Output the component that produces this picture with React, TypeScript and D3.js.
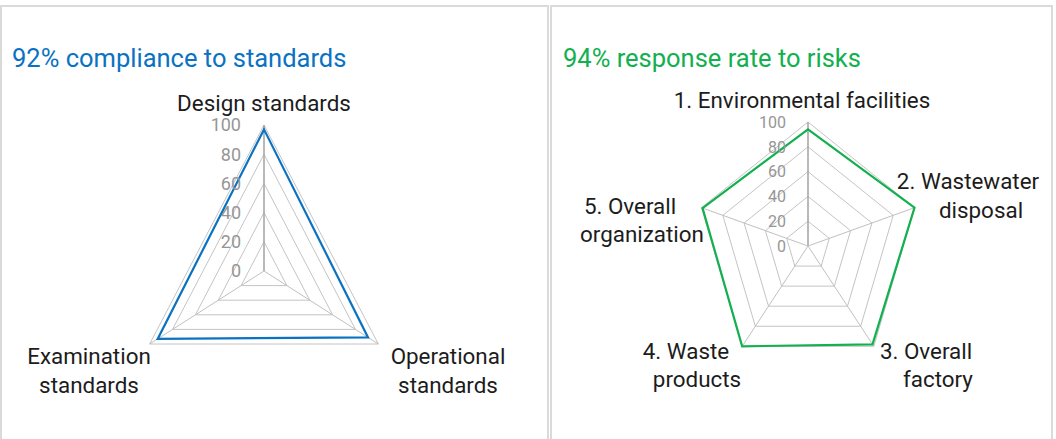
import React, { useEffect, useRef } from 'react'
import * as d3 from 'd3'

// left radar: compliance to standards
const stdLabels = [['Design standards'], ['Operational', 'standards'], ['Examination', 'standards']]
const stdValues = [97, 91, 93]

// right radar: response rate to risks
const riskLabels = [
  ['1. Environmental facilities'],
  ['2. Wastewater', 'disposal'],
  ['3. Overall', 'factory'],
  ['4. Waste', 'products'],
  ['5. Overall', 'organization'],
]
const riskValues = [94, 100, 98, 100, 99]

const ticks = [0, 20, 40, 60, 80, 100]
const titles = ['92% compliance to standards', '94% response rate to risks']

const FONT = 'Roboto, "Noto Sans", sans-serif'

export default function App() {
  const svgRef = useRef<SVGSVGElement>(null)

  useEffect(() => {
    const width = 1056, height = 439
    const svg = d3.select(svgRef.current).attr('width', width).attr('height', height)
    svg.selectAll('*').remove()

    // card frames
    svg.append('rect').attr('x', 1).attr('y', 6).attr('width', 547).attr('height', 450)
      .attr('fill', '#fff').attr('stroke', '#dadada').attr('stroke-width', 2)
    svg.append('rect').attr('x', 551).attr('y', 6).attr('width', 501).attr('height', 450)
      .attr('fill', '#fff').attr('stroke', '#dadada').attr('stroke-width', 2)

    const charts = [
      {
        labels: stdLabels, values: stdValues, title: titles[0], color: '#0a72c2',
        x0: 12, cx: 264, cy: 271, rx: 132, ry: 146, tickSize: 18, tickGap: 23,
        // label line centres / baselines relative to the chart centre
        place: [[[0, -160]], [[184, 93], [184, 122]], [[-175, 93], [-175, 122]]],
      },
      {
        labels: riskLabels, values: riskValues, title: titles[1], color: '#12b04f',
        x0: 563, cx: 808, cy: 246, rx: 112, ry: 124, tickSize: 16, tickGap: 22,
        place: [
          [[-6, -138]],
          [[160, -57], [173, -28]],
          [[118, 113], [130, 141]],
          [[-122, 113], [-111, 141]],
          [[-178, -32], [-166, -4]],
        ],
      },
    ]

    charts.forEach(c => {
      const n = c.values.length
      const angle = d3.scaleLinear().domain([0, n]).range([0, 2 * Math.PI])
      const r = d3.scaleLinear().domain([0, 100]).range([0, 1])
      const pt = (v: number, i: number): [number, number] => [
        c.cx + r(v) * c.rx * Math.sin(angle(i)),
        c.cy - r(v) * c.ry * Math.cos(angle(i)),
      ]
      const poly = d3.line<[number, number]>().curve(d3.curveLinearClosed)
      const g = svg.append('g')

      // grid rings
      g.selectAll('path.ring').data(ticks.filter(t => t > 0)).join('path')
        .attr('class', 'ring')
        .attr('d', t => poly(d3.range(n).map(i => pt(t, i))))
        .attr('fill', 'none').attr('stroke', '#c4c4c4').attr('stroke-width', 1)

      // spokes
      g.selectAll('line.spoke').data(d3.range(n)).join('line')
        .attr('class', 'spoke')
        .attr('x1', c.cx).attr('y1', c.cy)
        .attr('x2', i => pt(100, i)[0]).attr('y2', i => pt(100, i)[1])
        .attr('stroke', i => i === 0 ? '#a8a8a8' : '#c0c0c0')
        .attr('stroke-width', i => i === 0 ? 1.6 : 1)

      // series
      g.append('path')
        .attr('d', poly(c.values.map((v, i) => pt(v, i))))
        .attr('fill', 'none').attr('stroke', c.color).attr('stroke-width', 2.2)
        .attr('stroke-linejoin', 'miter')

      // value axis labels
      g.selectAll('text.tick').data(ticks).join('text')
        .attr('class', 'tick')
        .attr('x', c.cx - c.tickGap).attr('y', t => pt(t, 0)[1])
        .attr('dy', '0.36em').attr('text-anchor', 'end')
        .attr('font-family', FONT).attr('font-size', c.tickSize).attr('fill', '#969696')
        .text(t => t)

      // category labels
      c.labels.forEach((lines, i) => {
        lines.forEach((line, j) => {
          const [dx, dy] = c.place[i][j]
          g.append('text')
            .attr('x', c.cx + dx).attr('y', c.cy + dy)
            .attr('text-anchor', 'middle')
            .attr('font-family', FONT).attr('font-size', 22.4).attr('fill', '#1c1c1c')
            .text(line)
        })
      })

      // title
      svg.append('text').attr('x', c.x0).attr('y', 67)
        .attr('font-family', FONT).attr('font-size', 25.5).attr('fill', c.color)
        .text(c.title)
    })
  }, [])

  return (
    <div style={{ position: 'absolute', left: 0, top: 0 }}>
      <svg ref={svgRef} style={{ display: 'block' }}></svg>
    </div>
  )
}
